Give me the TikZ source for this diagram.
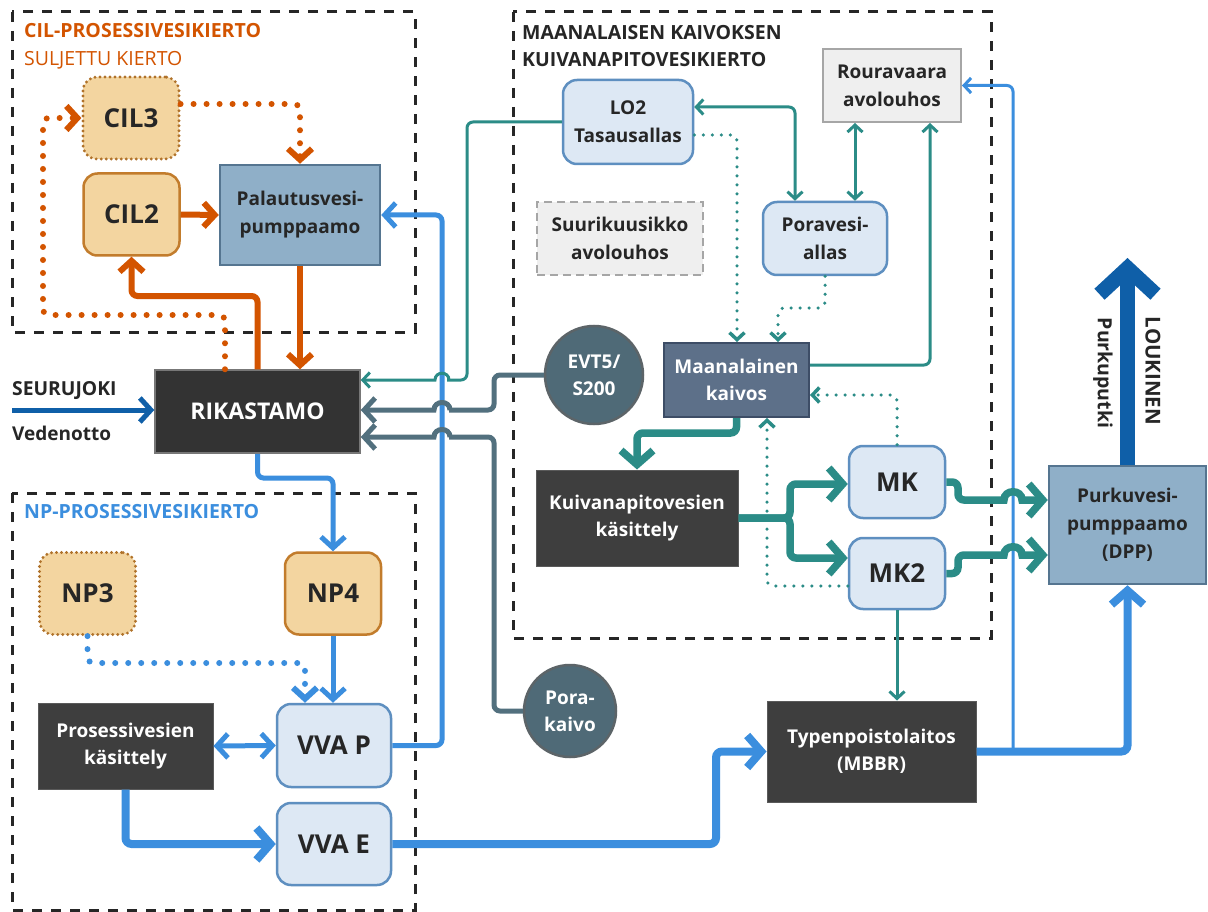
\documentclass[tikz,border=0pt]{standalone}
\usepackage{fontspec}
\setmainfont{Open Sans}
\usetikzlibrary{arrows.meta,calc}
\definecolor{orL}{HTML}{D35400}
\definecolor{orF}{HTML}{F3D5A0}
\definecolor{orB}{HTML}{C27C2C}
\definecolor{orD}{HTML}{B0722A}
\definecolor{lbF}{HTML}{DDE8F4}
\definecolor{lbB}{HTML}{5E8FC0}
\definecolor{pbF}{HTML}{8FAFC8}
\definecolor{pbB}{HTML}{557590}
\definecolor{rkF}{HTML}{333333}
\definecolor{rkB}{HTML}{777777}
\definecolor{dkF}{HTML}{3E3E3E}
\definecolor{dkB}{HTML}{5A5A5A}
\definecolor{maF}{HTML}{5D7089}
\definecolor{maB}{HTML}{3D4D66}
\definecolor{ciF}{HTML}{4F6A77}
\definecolor{ciB}{HTML}{5C6468}
\definecolor{grL}{HTML}{52707E}
\definecolor{tlL}{HTML}{2B8C87}
\definecolor{blL}{HTML}{3B8EDE}
\definecolor{dbL}{HTML}{0F5FA8}
\definecolor{gyF}{HTML}{EFEFEF}
\definecolor{gyB}{HTML}{A6A6A6}
\definecolor{txt}{HTML}{262626}
\newcommand{\myfs}[2]{\fontsize{#1}{#2}\selectfont}
\begin{document}
\begin{tikzpicture}[x=1pt,y=-1pt,
  region/.style={draw=black!85, line width=3pt, dash pattern=on 10pt off 9pt},
  orbox/.style={draw=orB, fill=orF, line width=2.5pt, rounded corners=14pt, minimum width=96pt, minimum height=82pt, inner sep=0pt, font=\bfseries\myfs{26}{30}, text=txt},
  orbdot/.style={orbox, draw=orD, line width=3.2pt, dash pattern=on 0pt off 5pt, line cap=round},
  lbbox/.style={draw=lbB, fill=lbF, line width=2.5pt, rounded corners=14pt, inner sep=0pt, align=center, text=txt, font=\bfseries\myfs{19}{28}},
  bigtxt/.style={font=\bfseries\myfs{26}{30}},
  pbox/.style={draw=pbB, fill=pbF, line width=2.5pt, inner sep=0pt, align=center, text=txt, font=\bfseries\myfs{19}{28}},
  rkbox/.style={draw=rkB, fill=rkF, line width=1.5pt, inner sep=0pt, align=center, text=white, font=\bfseries\myfs{23}{28}},
  dkbox/.style={draw=dkB, fill=dkF, line width=1pt, inner sep=0pt, align=center, text=white, font=\bfseries\myfs{19}{27}},
  mabox/.style={draw=maB, fill=maF, line width=2pt, inner sep=0pt, align=center, text=white, font=\bfseries\myfs{19}{27}},
  gybox/.style={draw=gyB, fill=gyF, line width=2pt, inner sep=0pt, align=center, text=txt, font=\bfseries\myfs{19}{28}},
  circ/.style={circle, draw=ciB, fill=ciF, line width=2.5pt, inner sep=0pt, align=center, text=white, font=\bfseries\myfs{19}{27}},
  ttl/.style={anchor=west, inner sep=0pt, font=\bfseries\myfs{19.5}{22}},
  oline/.style={draw=orL, line width=6pt},
  odot/.style={draw=orL, line width=6pt, dash pattern=on 0pt off 13pt, line cap=round},
  bline/.style={draw=blL, line width=5pt},
  bdot/.style={draw=blL, line width=6pt, dash pattern=on 0pt off 13pt, line cap=round},
  bthick/.style={draw=blL, line width=8pt},
  bthin/.style={draw=blL, line width=3pt},
  gline/.style={draw=grL, line width=5pt},
  tthin/.style={draw=tlL, line width=3pt},
  tthick/.style={draw=tlL, line width=7.5pt},
  tdot/.style={draw=tlL, line width=3.5pt, dash pattern=on 0pt off 9pt, line cap=round},
  tipS/.style={-{Straight Barb[length=7pt,width=15pt]}},
  tipSS/.style={{Straight Barb[length=7pt,width=15pt]}-{Straight Barb[length=7pt,width=15pt]}},
  tipM/.style={-{Straight Barb[length=11pt,width=24pt]}},
  tipMM/.style={{Straight Barb[length=11pt,width=24pt]}-{Straight Barb[length=11pt,width=24pt]}},
  tipL/.style={-{Straight Barb[length=14pt,width=32pt]}},
  tipH/.style={-{Straight Barb[length=26pt,width=56pt]}},
  rc/.style={rounded corners=6pt}
]
\useasboundingbox (0,0) rectangle (1208,912);
\fill[white] (0,0) rectangle (1208,912);

% regions
\draw[region] (12,12) rectangle (415,332);
\draw[region] (513,12) rectangle (991,638);
\draw[region] (12,493) rectangle (415,910);

\node[ttl, text=orL] (tcil) at (24,31) {CIL-PROSESSIVESIKIERTO};
\node[ttl, text=orL, font=\myfs{19.5}{22}] (tsul) at (24,60) {SULJETTU KIERTO};
\node[ttl, text=blL] (tnp) at (24,512) {NP-PROSESSIVESIKIERTO};
\node[ttl, text=txt] (tmaa1) at (522,33) {MAANALAISEN KAIVOKSEN};
\node[ttl, text=txt] (tmaa2) at (522,60) {KUIVANAPITOVESIKIERTO};

% nodes
\node[orbdot] (CIL3) at (131,118) {CIL3};
\node[orbox] (CIL2) at (131.5,214.5) {CIL2};
\node[pbox, minimum width=160pt, minimum height=100pt] (PAL) at (300,215) {Palautusvesi-\\pumppaamo};
\node[rkbox, minimum width=205pt, minimum height=83pt] (RIK) at (257.5,411.5) {RIKASTAMO};
\node[orbdot] (NP3) at (87.5,593.5) {NP3};
\node[orbox] (NP4) at (333,593.5) {NP4};
\node[lbbox, bigtxt, minimum width=114pt, minimum height=83pt] (VVAP) at (334,745.5) {VVA P};
\node[lbbox, bigtxt, minimum width=114pt, minimum height=82pt] (VVAE) at (334,844) {VVA E};
\node[dkbox, minimum width=175pt, minimum height=86pt] (PK) at (125.5,746) {Prosessivesien\\käsittely};
\node[lbbox, minimum width=130pt, minimum height=84pt] (LO2) at (628,122) {LO2\\Tasausallas};
\node[gybox, minimum width=138pt, minimum height=73pt] (ROU) at (892,85.5) {Rouravaara\\avolouhos};
\node[gybox, dash pattern=on 8pt off 5pt, minimum width=166pt, minimum height=73pt] (SUU) at (620,238.5) {Suurikuusikko\\avolouhos};
\node[lbbox, minimum width=124pt, minimum height=73pt] (POR) at (825,238.5) {Poravesi-\\allas};
\node[mabox, minimum width=145pt, minimum height=74pt] (MAA) at (736.5,380) {Maanalainen\\kaivos};
\node[circ, minimum size=98pt] (EVT) at (594,375) {EVT5/\\S200};
\node[circ, minimum size=92pt] (PKV) at (570,711) {Pora-\\kaivo};
\node[dkbox, minimum width=202pt, minimum height=96pt] (KUI) at (637,518) {Kuivanapitovesien\\käsittely};
\node[lbbox, bigtxt, minimum width=96pt, minimum height=72pt] (MK) at (897,482) {MK};
\node[lbbox, bigtxt, minimum width=96pt, minimum height=71pt] (MK2) at (897,573.5) {MK2};
\node[dkbox, minimum width=209pt, minimum height=101pt] (TYP) at (871.5,751.5) {Typenpoistolaitos\\(MBBR)};
\node[pbox, minimum width=157pt, minimum height=118pt] (DPP) at (1127.5,525) {Purkuvesi-\\pumppaamo\\(DPP)};

% free ends
\coordinate (seur) at (12,410);
\coordinate (louk) at (1129,258);
\coordinate (tap) at (1013,751.5);

\node[anchor=west, inner sep=0pt, text=txt, font=\bfseries\myfs{19.3}{22}] (tseur) at (12,391) {SEURUJOKI};
\node[anchor=west, inner sep=0pt, text=txt, font=\bfseries\myfs{19}{22}] (tved) at (12,433) {Vedenotto};
\node[rotate=-90, inner sep=0pt, text=txt, font=\bfseries\myfs{20.5}{22}] (tlouk) at (1153,371) {LOUKINEN};
\node[rotate=-90, inner sep=0pt, text=txt, font=\bfseries\myfs{19.5}{22}] (tpurk) at (1103,373) {Purkuputki};

% orange
\draw[oline, tipM] (CIL2.east) -- (PAL.west);
\draw[oline, tipM] (PAL.south) -- (PAL.south |- RIK.north);
\draw[oline, tipM, rc] (RIK.north) -- (257.5,296) -| (CIL2.south);
\draw[odot, tipM, rc] (RIK.north -| 225,0) -- (225,315) -- (43,315) |- (CIL3.west);
\draw[odot, tipM, rc] (CIL3.east |- 0,104) -| (PAL.north);

% blue
\draw[bline, tipM, rc] (RIK.south) -- (257.5,478) -| (NP4.north);
\draw[bline, tipM, rc] (VVAP.east) -- (442,745.5) |- (PAL.east);
\draw[bline, tipM] (NP4.south) -- (NP4.south |- VVAP.north);
\draw[bdot, tipM, rc] (NP3.south) -- (87.5,663) -| (VVAP.north -| 305,0);
\draw[bline, tipMM] (PK.east) -- (VVAP.west);
\draw[bthick, tipL, rc] (PK.south) |- (VVAE.west);
\draw[bthick, tipL, rc] (VVAE.east) -- (716,844) |- (TYP.west);
\draw[bthick, tipL, rc] (TYP.east) -| (DPP.south);
\draw[bthin, tipS, rc] (tap) |- (ROU.east);
\draw[draw=dbL, line width=5pt, tipM] (seur) -- (RIK.west |- seur);
\draw[draw=dbL, line width=15pt, tipH] (DPP.north) -- (DPP.north |- louk);

% teal / grey into Rikastamo with hops
\draw[tthin, tipS, rounded corners=6pt] (LO2.west) -- (467,122) -- (467,380) -- (453,380) [sharp corners] -- (449,380) .. controls (449,371) and (435,371) .. (435,380) -- (RIK.east |- 0,380);
\draw[gline, tipM, rounded corners=6pt] (EVT.west) -- (494,375) -- (494,410) -- (455,410) [sharp corners] -- (450,410) .. controls (450,400) and (434,400) .. (434,410) -- (RIK.east |- 0,410);
\draw[gline, tipM, rounded corners=6pt] (PKV.west) -- (494,711) -- (494,437) -- (455,437) [sharp corners] -- (450,437) .. controls (450,427) and (434,427) .. (434,437) -- (RIK.east |- 0,437);

% mine teal
\draw[tthin, tipSS, rc] (LO2.east |- 0,107) -| (POR.north -| 795,0);
\draw[tthin, tipSS] (ROU.south -| 855,0) -- (POR.north -| 855,0);
\draw[tthin, tipS, rc] (MAA.east |- 0,365) -| (ROU.south -| 930,0);
\draw[tthin, tipS] (MK2.south) -- (MK2.south |- TYP.north);
\draw[tdot, tipS, rc] (LO2.east |- 0,135) -| (MAA.north -| 737,0);
\draw[tdot, tipS, rc] (POR.south) -- (825,308) -| (MAA.north -| 778,0);
\draw[tdot, tipS, rc] (MK.north) |- (MAA.east |- 0,395);
\draw[tdot, tipS, rc] (MK2.west |- 0,586) -| (MAA.south -| 767,0);
\draw[tthick, tipL, rc] (MAA.south) -- (736.5,433) -| (KUI.north);
\draw[tthick, tipL, rc] (KUI.east) -- (790,518) |- (MK.west |- 0,484);
\draw[tthick, tipL, rc] (KUI.east) -- (790,518) |- (MK2.west |- 0,558);
\draw[tthick, tipL, rounded corners=6pt] (MK.east) -- (958,482) -- (958,500) -- (998,500) [sharp corners] -- (1004,500) .. controls (1004,489) and (1022,489) .. (1022,500) -- (DPP.west |- 0,500);
\draw[tthick, tipL, rounded corners=6pt] (MK2.east) -- (958,573.5) -- (958,555) -- (998,555) [sharp corners] -- (1004,555) .. controls (1004,544) and (1022,544) .. (1022,555) -- (DPP.west |- 0,555);
\end{tikzpicture}
\end{document}
